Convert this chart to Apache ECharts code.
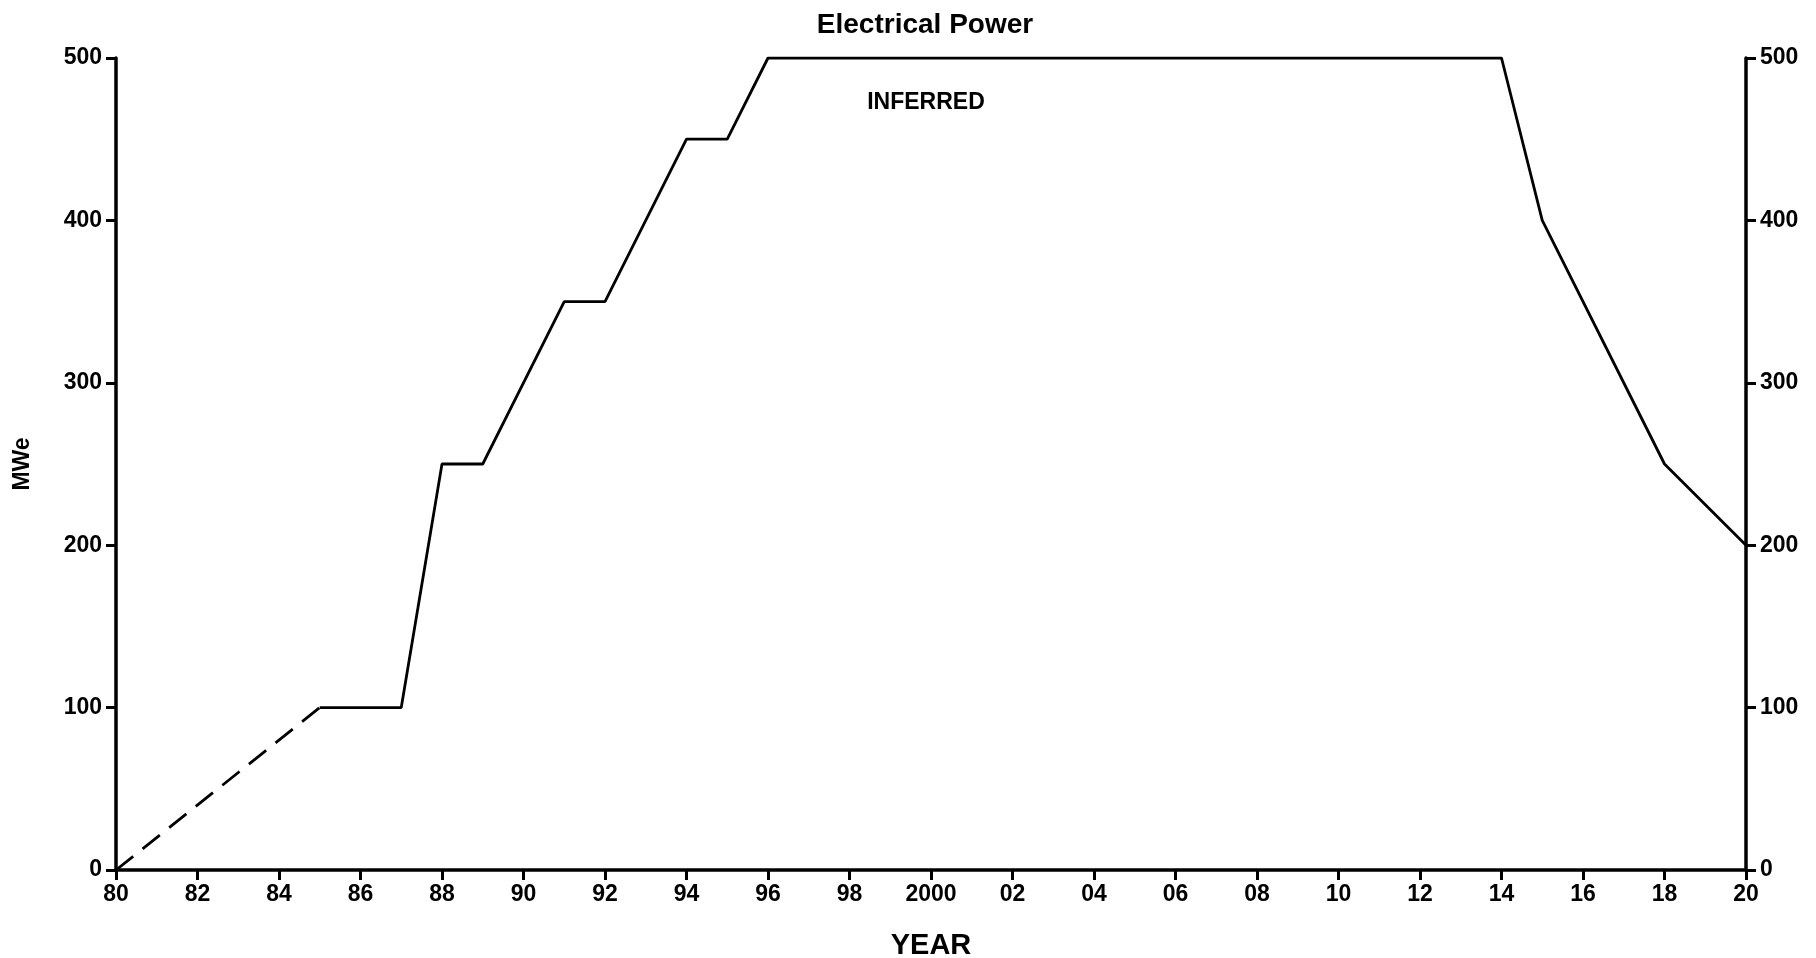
<!DOCTYPE html>
<html>
<head>
<meta charset="utf-8">
<style>
  html, body { margin: 0; padding: 0; background: #fff; }
  #chart { width: 1816px; height: 958px; }
</style>
<script src="https://cdn.jsdelivr.net/npm/echarts@6/dist/echarts.min.js"></script>
</head>
<body>
<div id="chart"></div>
<script>
// Data
const inferredYears = [1980, 1985];
const inferredMWe = [0, 100];
const plannedYears = [1985, 1987, 1988, 1989, 1991, 1992, 1994, 1995, 1996, 2014, 2015, 2018, 2020];
const plannedMWe = [100, 100, 250, 250, 350, 350, 450, 450, 500, 500, 400, 250, 200];
const yearTicks = { min: 1980, max: 2020, step: 2 };
const mweTicks = { min: 0, max: 500, step: 100 };

const font = '"Liberation Sans", Arial, Helvetica, sans-serif';
const pairs = (xs, ys) => xs.map((x, i) => [x, ys[i]]);

function yearLabel(v) {
  if (v === 2000) return '2000';
  const s = String(v % 100);
  return s.length < 2 ? '0' + s : s;
}

const axisCommon = {
  axisLine: { show: true, onZero: false, lineStyle: { color: '#000', width: 3.5 } },
  axisTick: { show: true, inside: false, length: 10, lineStyle: { color: '#000', width: 3 } },
  splitLine: { show: false }
};

const yAxisBase = (pos) => Object.assign({}, axisCommon, {
  type: 'value',
  position: pos,
  min: mweTicks.min,
  max: mweTicks.max,
  interval: mweTicks.step,
  axisLabel: { show: true, margin: 14, color: '#000', fontFamily: font, fontWeight: 'bold', fontSize: 23 }
});

const chart = echarts.init(document.getElementById('chart'), null, { renderer: 'canvas' });
chart.setOption({
  animation: false,
  backgroundColor: '#fff',
  title: [
    { text: 'Electrical Power', left: 920, top: 6, textAlign: 'center',
      textStyle: { color: '#000', fontFamily: font, fontWeight: 'bold', fontSize: 28 } },
    { text: 'INFERRED', left: 921, top: 86, textAlign: 'center',
      textStyle: { color: '#000', fontFamily: font, fontWeight: 'bold', fontSize: 23 } }
  ],
  grid: { left: 116, right: 70, top: 58, bottom: 88, containLabel: false, outerBoundsMode: 'none' },
  xAxis: Object.assign({}, axisCommon, {
    type: 'value',
    min: yearTicks.min,
    max: yearTicks.max,
    interval: yearTicks.step,
    name: 'YEAR',
    nameLocation: 'middle',
    nameGap: 61,
    nameTextStyle: { color: '#000', fontFamily: font, fontWeight: 'bold', fontSize: 29 },
    axisLabel: { show: true, margin: 13, color: '#000', fontFamily: font, fontWeight: 'bold', fontSize: 23,
      formatter: yearLabel }
  }),
  yAxis: [
    Object.assign(yAxisBase('left'), {
      name: 'MWe',
      nameLocation: 'middle',
      nameGap: 82,
      nameTextStyle: { color: '#000', fontFamily: font, fontWeight: 'bold', fontSize: 23 }
    }),
    yAxisBase('right')
  ],
  series: [
    {
      type: 'line',
      data: pairs(inferredYears, inferredMWe),
      symbol: 'none',
      lineStyle: { color: '#000', width: 2.8, type: [22, 12] }
    },
    {
      type: 'line',
      data: pairs(plannedYears, plannedMWe),
      symbol: 'none',
      lineStyle: { color: '#000', width: 2.8 }
    }
  ]
});
</script>
</body>
</html>
